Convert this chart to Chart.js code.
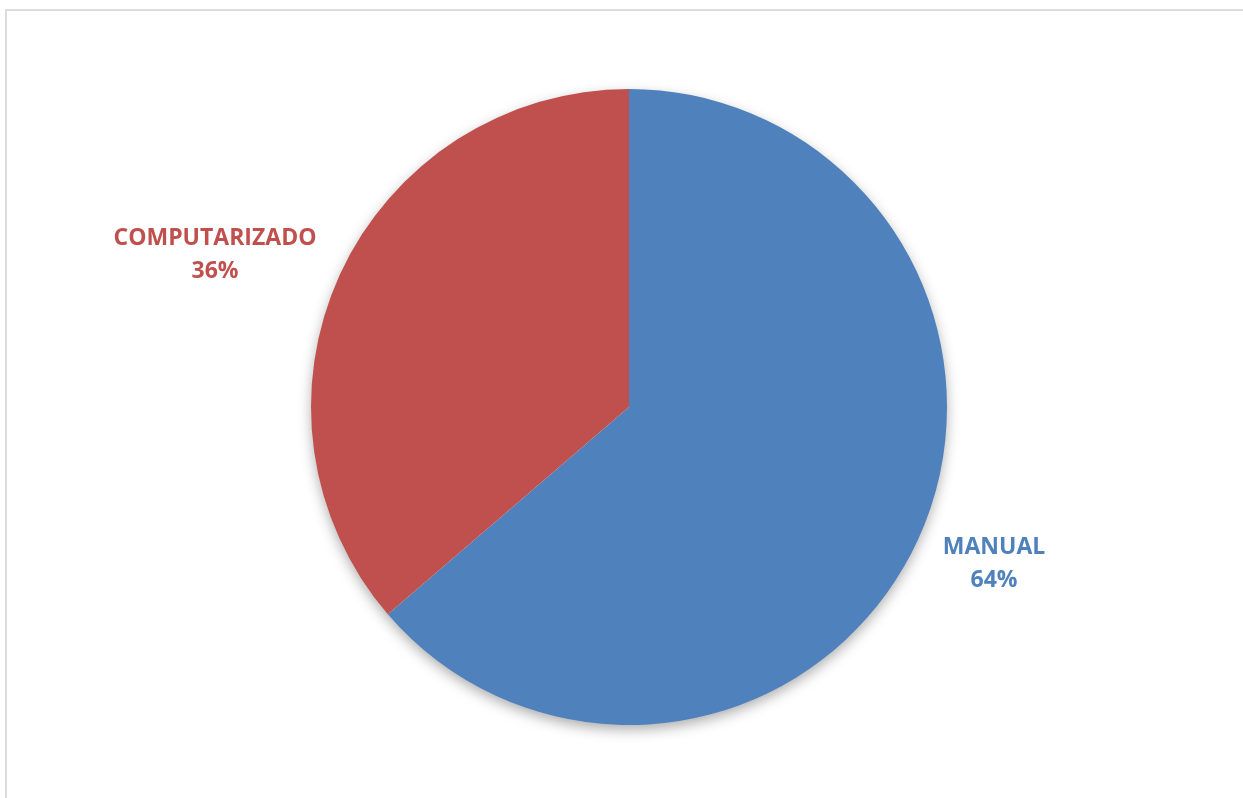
<!DOCTYPE html>
<html>
<head>
<meta charset="utf-8">
<script src="https://cdn.jsdelivr.net/npm/chart.js@4"></script>
<style>
  html, body { margin: 0; padding: 0; background: #fff; overflow: hidden; }
  #frame { position: absolute; left: 5px; top: 9px; width: 1300px; height: 900px; border: 2px solid #dcdcdc; box-sizing: border-box; }
  #wrap { position: absolute; left: 0; top: 0; width: 1243px; height: 798px; }
</style>
</head>
<body>
<div id="frame"></div>
<div id="wrap"><canvas id="myChart"></canvas></div>
<script>
const labels = ['MANUAL', 'COMPUTARIZADO'];
const values = [63.7, 36.3];
const colors = ['#4F81BD', '#C0504D'];
// label offsets from pie centre (px)
const labelOffsets = [[365, 156], [-414, -153]];

// soft shadow under the pie
const pieShadow = {
  id: 'pieShadow',
  beforeDatasetsDraw(chart) {
    const arc = chart.getDatasetMeta(0).data[0];
    if (!arc) return;
    const ctx = chart.ctx;
    ctx.save();
    ctx.shadowColor = 'rgba(0,0,0,0.35)';
    ctx.shadowBlur = 14;
    ctx.shadowOffsetY = 5;
    ctx.beginPath();
    ctx.arc(arc.x, arc.y, arc.outerRadius - 1, 0, Math.PI * 2);
    ctx.fillStyle = '#ffffff';
    ctx.fill();
    ctx.restore();
  }
};

const sliceLabels = {
  id: 'sliceLabels',
  afterDatasetsDraw(chart) {
    const ctx = chart.ctx;
    const meta = chart.getDatasetMeta(0);
    const total = values.reduce((a, b) => a + b, 0);
    meta.data.forEach((arc, i) => {
      const x = arc.x + labelOffsets[i][0];
      const y = arc.y + labelOffsets[i][1];
      ctx.save();
      ctx.fillStyle = colors[i];
      ctx.font = 'bold 23px "Open Sans"';
      ctx.textAlign = 'center';
      ctx.textBaseline = 'middle';
      ctx.fillText(labels[i], x, y - 16);
      ctx.fillText(Math.round(values[i] / total * 100) + '%', x, y + 17);
      ctx.restore();
    });
  }
};

const ctx = document.getElementById('myChart');
new Chart(ctx, {
  type: 'pie',
  data: {
    labels: labels,
    datasets: [{
      data: values,
      backgroundColor: colors,
      borderWidth: 0
    }]
  },
  options: {
    responsive: true,
    maintainAspectRatio: false,
    animation: false,
    layout: { padding: { top: 89, bottom: 73, left: 15, right: 0 } },
    plugins: {
      legend: { display: false },
      tooltip: { enabled: false }
    }
  },
  plugins: [pieShadow, sliceLabels]
});
</script>
</body>
</html>
